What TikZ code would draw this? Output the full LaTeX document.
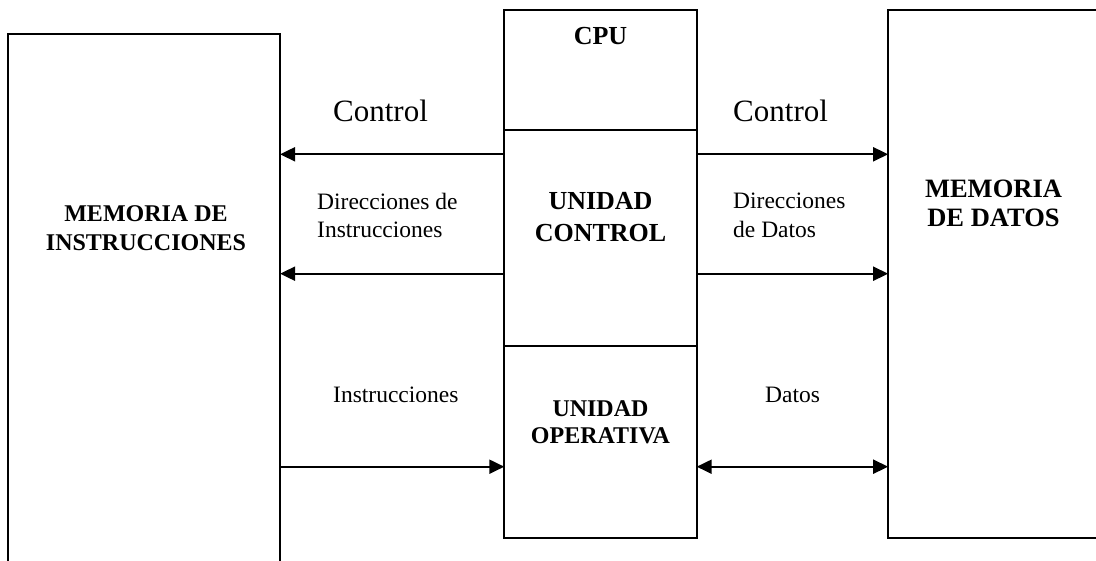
\documentclass[tikz,border=0pt]{standalone}
\usepackage{fontspec}
\setmainfont{Liberation Serif}
\usetikzlibrary{arrows.meta}
\begin{document}
\begin{tikzpicture}[x=1pt,y=-1pt,
  box/.style={draw, line width=2pt, inner sep=0pt, outer sep=0pt},
  arr/.style={line width=2pt, -{Triangle[length=15pt,width=14pt]}},
  darr/.style={line width=2pt, {Triangle[length=15pt,width=14pt]}-{Triangle[length=15pt,width=14pt]}},
  lbl/.style={font=\fontsize{23.5}{28.7}\selectfont, align=left, inner sep=0pt},
  big/.style={font=\fontsize{31}{36}\selectfont, inner sep=0pt},
  bold/.style={font=\fontsize{24}{29}\selectfont\bfseries, align=center, inner sep=0pt}]
\useasboundingbox (0,0) rectangle (1096,561);
\clip (0,0) rectangle (1096,561);
% boxes
\node[box, minimum width=271.7pt, minimum height=566pt] (lmem) at (144.2,317) {};
\node[box, minimum width=261.7pt, minimum height=528pt] (rmem) at (1019,274) {};
\node[box, minimum width=192.4pt, minimum height=120pt] (cpu) at (600.5,70) {};
\node[box, minimum width=192.4pt, minimum height=216pt] (ctl) at (600.5,238) {};
\node[box, minimum width=192.4pt, minimum height=192.3pt] (op) at (600.5,442.15) {};
% box texts
\node[bold, anchor=center] (tlmem) at (146,227.8) {MEMORIA DE\\INSTRUCCIONES};
\node[bold, font=\fontsize{26.5}{29}\selectfont\bfseries, anchor=center] (trmem) at (993.5,203.6) {MEMORIA\\DE DATOS};
\node[bold, font=\fontsize{26}{31}\selectfont\bfseries, anchor=base] (tcpu) at (600.5,45) {CPU};
\node[bold, font=\fontsize{26}{32}\selectfont\bfseries, anchor=center] (tctl) at (600.5,216.7) {UNIDAD\\CONTROL};
\node[bold, font=\fontsize{24}{27}\selectfont\bfseries, anchor=center] (top) at (600.5,422.4) {UNIDAD\\OPERATIVA};
% connector labels
\node[big, anchor=base west] (lc1) at (333,122) {Control};
\node[big, anchor=base west] (lc2) at (733,122) {Control};
\node[lbl, anchor=west] (ld1) at (317,215.5) {Direcciones de\\Instrucciones};
\node[lbl, anchor=west] (ld2) at (733,215.5) {Direcciones\\de Datos};
\node[lbl, anchor=base west] (li) at (333,402.7) {Instrucciones};
\node[lbl, anchor=base west] (lda) at (765,402.7) {Datos};
% connectors
\coordinate (yc) at (0,154.3);
\coordinate (yd) at (0,273.7);
\coordinate (yi) at (0,466.7);
\draw[arr] (ctl.west |- yc) -- (lmem.east |- yc);
\draw[arr] (ctl.west |- yd) -- (lmem.east |- yd);
\draw[arr] (lmem.east |- yi) -- (op.west |- yi);
\draw[arr] (ctl.east |- yc) -- (rmem.west |- yc);
\draw[arr] (ctl.east |- yd) -- (rmem.west |- yd);
\draw[darr] (op.east |- yi) -- (rmem.west |- yi);
\end{tikzpicture}
\end{document}
